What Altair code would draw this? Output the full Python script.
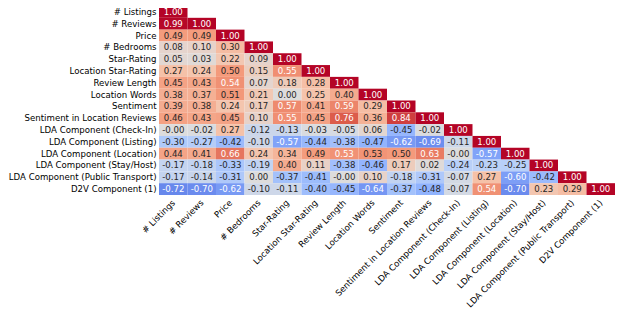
import altair as alt
import pandas as pd

names = [
    "# Listings", "# Reviews", "Price", "# Bedrooms", "Star-Rating",
    "Location Star-Rating", "Review Length", "Location Words", "Sentiment",
    "Sentiment in Location Reviews", "LDA Component (Check-In)",
    "LDA Component (Listing)", "LDA Component (Location)",
    "LDA Component (Stay/Host)", "LDA Component (Public Transport)",
    "D2V Component (1)",
]

rows = [
    [1.00],
    [0.99, 1.00],
    [0.49, 0.49, 1.00],
    [0.08, 0.10, 0.30, 1.00],
    [0.05, 0.03, 0.22, 0.09, 1.00],
    [0.27, 0.24, 0.50, 0.15, 0.55, 1.00],
    [0.45, 0.43, 0.54, 0.07, 0.18, 0.28, 1.00],
    [0.38, 0.37, 0.51, 0.21, 0.00, 0.25, 0.40, 1.00],
    [0.39, 0.38, 0.24, 0.17, 0.57, 0.41, 0.59, 0.29, 1.00],
    [0.46, 0.43, 0.45, 0.10, 0.55, 0.45, 0.76, 0.36, 0.84, 1.00],
    [-0.00, -0.02, 0.27, -0.12, -0.13, -0.03, -0.05, 0.06, -0.45, -0.02, 1.00],
    [-0.30, -0.27, -0.42, -0.10, -0.57, -0.44, -0.38, -0.47, -0.62, -0.69, -0.11, 1.00],
    [0.44, 0.41, 0.66, 0.24, 0.34, 0.49, 0.534, 0.526, 0.50, 0.63, -0.00, -0.57, 1.00],
    [-0.17, -0.18, -0.33, -0.19, 0.40, 0.11, -0.38, -0.46, 0.17, 0.02, -0.24, -0.23, -0.25, 1.00],
    [-0.17, -0.14, -0.31, 0.00, -0.37, -0.41, -0.00, 0.10, -0.18, -0.31, -0.07, 0.27, -0.60, -0.42, 1.00],
    [-0.72, -0.70, -0.62, -0.10, -0.11, -0.40, -0.45, -0.64, -0.37, -0.48, -0.07, 0.54, -0.70, 0.23, 0.29, 1.00],
]

color_domain = [-1, -0.75, -0.5, -0.25, 0, 0.25, 0.5, 0.75, 1]
color_range = ["#3b4cc0", "#6282ea", "#8db0fe", "#b8d0f9", "#dddcdc",
               "#f5c4ac", "#f49a7b", "#de604d", "#b40426"]

records = []
for i, r in enumerate(rows):
    for j, v in enumerate(r):
        records.append({"row": names[i], "col": names[j], "value": v,
                        "label": f"{v:.2f}"})
df = pd.DataFrame(records)

FONT = "DejaVu Sans"
FS = 8.6

base = alt.Chart(df).encode(
    x=alt.X("col:N", sort=names, scale=alt.Scale(paddingInner=0, paddingOuter=0),
            axis=alt.Axis(title=None, labelAngle=315, labelAlign="right",
                          labelBaseline="top", ticks=False, domain=False,
                          labelFont=FONT, labelFontSize=FS, labelColor="#000000",
                          labelPadding=3, labelOffset=-2.5, labelLimit=0)),
    y=alt.Y("row:N", sort=names, scale=alt.Scale(paddingInner=0, paddingOuter=0),
            axis=alt.Axis(title=None, ticks=False, domain=False,
                          labelFont=FONT, labelFontSize=FS, labelColor="#000000",
                          labelPadding=3, labelLimit=0)),
)

rects = base.mark_rect().encode(
    color=alt.Color("value:Q", scale=alt.Scale(domain=color_domain, range=color_range,
                                               interpolate="rgb"), legend=None)
)

texts = base.mark_text(font=FONT, fontSize=FS).encode(
    text="label:N",
    color=alt.condition("abs(datum.value) >= 0.53", alt.value("#ffffff"),
                        alt.value("#262626")),
)

chart = (rects + texts).properties(
    width=456, height=189,
    padding={"left": 0, "top": -2, "right": 0, "bottom": 0},
).configure_view(stroke=None)

chart.save("out.html", embed_options={"renderer": "svg", "actions": False})
